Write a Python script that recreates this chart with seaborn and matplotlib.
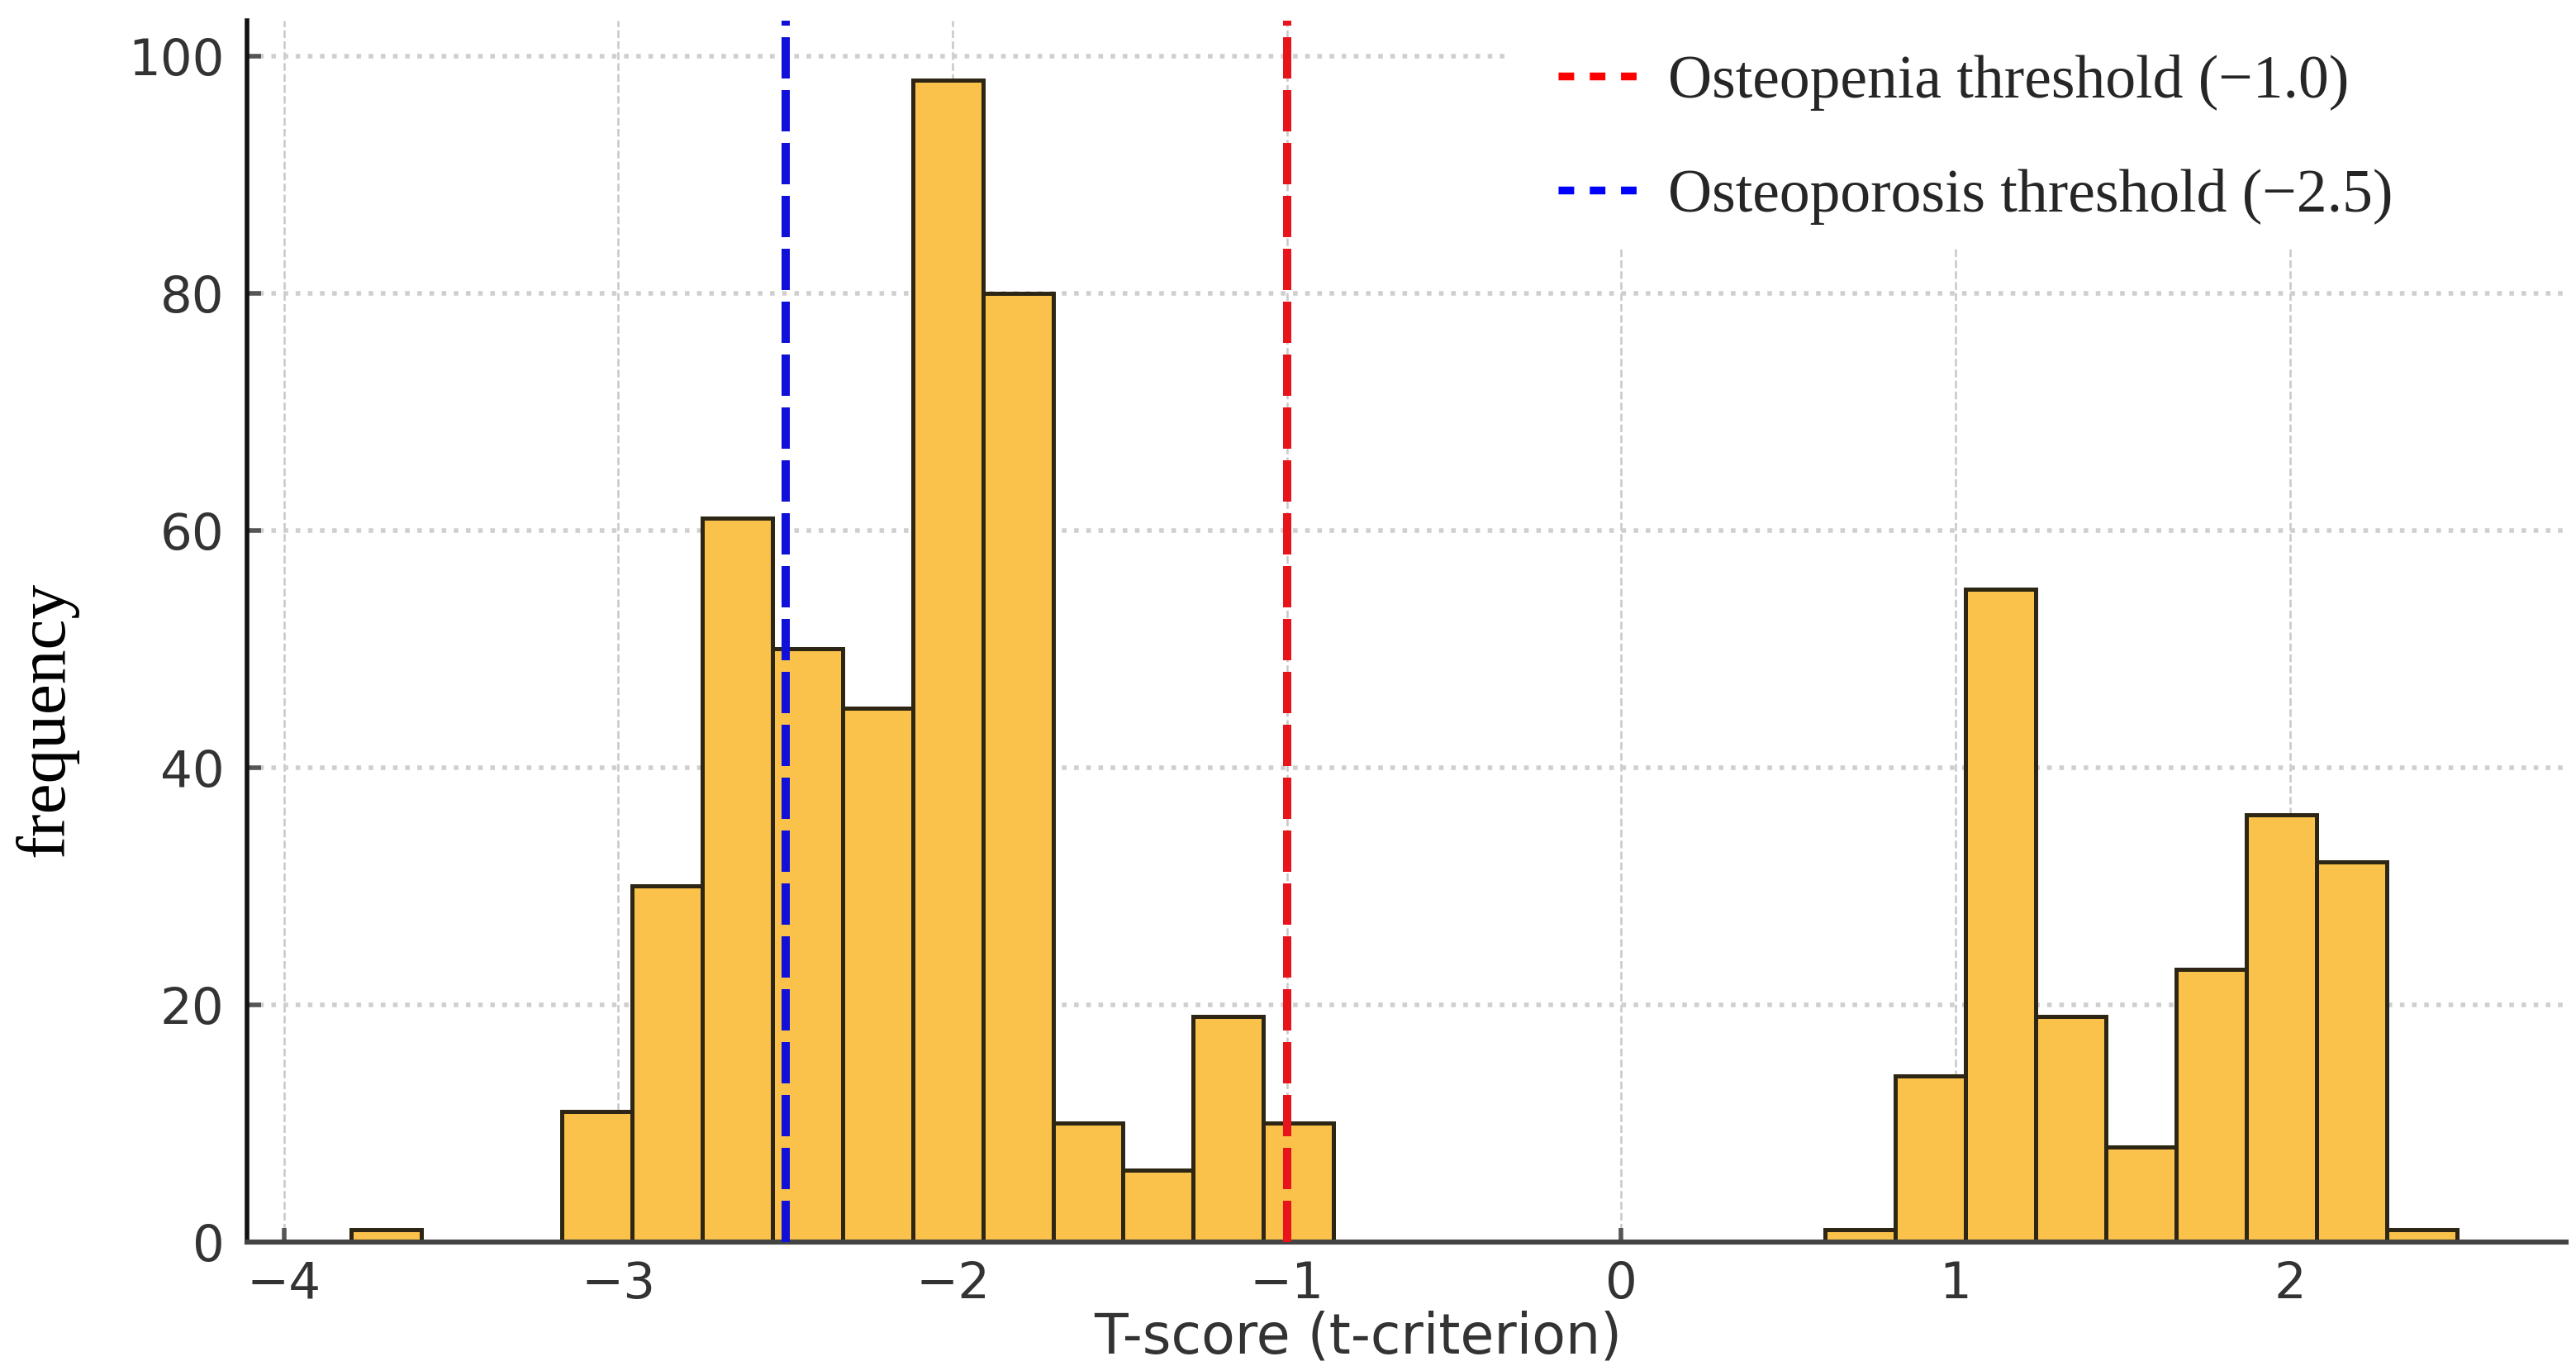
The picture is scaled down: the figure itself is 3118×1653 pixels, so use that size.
import numpy as np
import pandas as pd
import matplotlib
matplotlib.use("Agg")
import matplotlib.pyplot as plt
import seaborn as sns
from matplotlib.lines import Line2D
from matplotlib.patches import Rectangle

# ---- data ----
bin_edges = [-3.80, -3.59, -3.38, -3.17, -2.96, -2.75, -2.54, -2.33, -2.12, -1.91,
             -1.70, -1.49, -1.28, -1.07, -0.86, -0.65, -0.44, -0.23, -0.02, 0.19,
             0.40, 0.61, 0.82, 1.03, 1.24, 1.45, 1.66, 1.87, 2.08, 2.29, 2.50]
counts = [1, 0, 0, 11, 30, 61, 50, 45, 98, 80,
          10, 6, 19, 10, 0, 0, 0, 0, 0, 0,
          0, 1, 14, 55, 19, 8, 23, 36, 32, 1]
osteopenia = -1.0
osteoporosis = -2.5
x_ticks = [-4, -3, -2, -1, 0, 1, 2]
y_ticks = [0, 20, 40, 60, 80, 100]

edges = np.array(bin_edges)
df = pd.DataFrame({"t_score": (edges[:-1] + edges[1:]) / 2, "n": counts})

sns.set_theme(style="white")
plt.rcParams["font.family"] = ["DejaVu Sans"]

fig = plt.figure(figsize=(15.59, 8.265), dpi=200)
ax = fig.add_axes([0.096, 0.091, 0.90, 0.894])

sns.histplot(data=df, x="t_score", weights="n", bins=bin_edges, ax=ax,
             color="#FAC24B", edgecolor="#2e2614", linewidth=1.8, alpha=1.0)

ax.axvline(osteopenia, color="#E8141B", linestyle=(0, (5, 1.4)), linewidth=3.6, zorder=5)
ax.axvline(osteoporosis, color="#1010D8", linestyle=(0, (5, 1.4)), linewidth=3.6, zorder=5)

ax.set_xlim(-4.11, 2.825)
ax.set_ylim(0, 103)
ax.set_xticks(x_ticks)
ax.set_yticks(y_ticks)
ax.set_xticklabels(["\u22124", "\u22123", "\u22122", "\u22121", "0", "1", "2"])

ax.set_axisbelow(True)
ax.grid(axis="y", linestyle=":", color="#cfcfcf", linewidth=2.0)
ax.grid(axis="x", linestyle="--", color="#c8c8c8", linewidth=0.9)

for side in ["top", "right"]:
    ax.spines[side].set_visible(False)
ax.spines["left"].set_color("#111111")
ax.spines["left"].set_linewidth(2.0)
ax.spines["bottom"].set_color("#444444")
ax.spines["bottom"].set_linewidth(2.2)

ax.tick_params(axis="both", labelsize=22, labelcolor="#333333", color="#555555",
               length=6, width=2.0, direction="in", left=True, bottom=True)
ax.tick_params(axis="x", pad=8)
ax.tick_params(axis="y", pad=10)

ax.set_xlabel("T-score (t-criterion)", fontsize=24, color="#333333")
ax.xaxis.set_label_coords(0.479, -0.056)
ax.set_ylabel("frequency", fontsize=30, family=["Liberation Serif"], color="black")
ax.yaxis.set_label_coords(-0.073, 0.428)

# white patch behind the legend, as in the source figure
fig.add_artist(Rectangle((0.587, 0.8185), 0.413, 0.1815, transform=fig.transFigure,
                         facecolor="white", edgecolor="none", zorder=1))

handles = [
    Line2D([0], [0], color="#FF0000", linestyle=(0, (2.0, 2.0)), linewidth=3.4),
    Line2D([0], [0], color="#0000FF", linestyle=(0, (2.0, 2.0)), linewidth=3.4),
]
labels = ["Osteopenia threshold (\u22121.0)", "Osteoporosis threshold (\u22122.5)"]
leg = fig.legend(handles, labels, loc="upper left", bbox_to_anchor=(0.605, 0.960),
                 prop={"family": ["Liberation Serif"], "size": 26.5},
                 frameon=False, borderpad=0, borderaxespad=0,
                 handlelength=1.5, handletextpad=0.3, labelspacing=0.95)
leg.set_zorder(2)

fig.savefig("out.png", dpi=200, facecolor="white")
